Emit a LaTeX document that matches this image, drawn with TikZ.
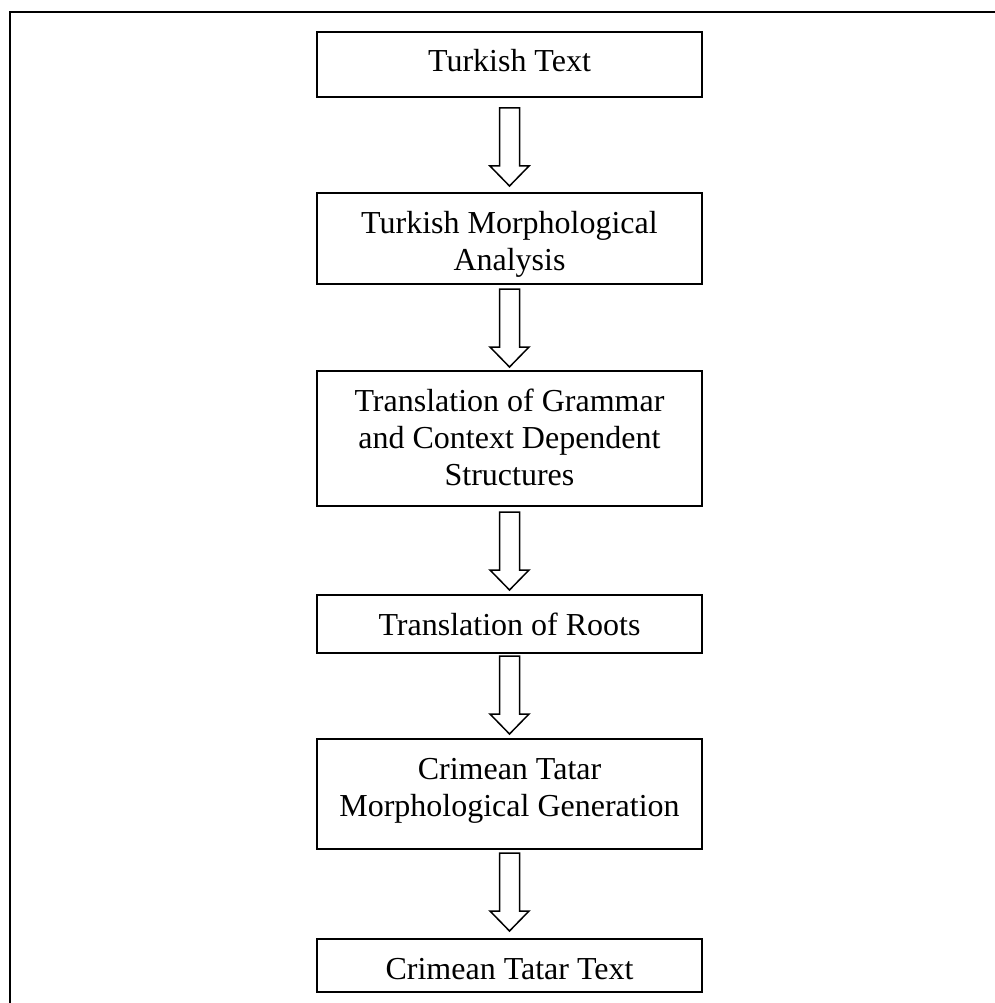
\documentclass[tikz,border=0pt]{standalone}
\usepackage{fontspec}
\setmainfont{Liberation Serif}
\usetikzlibrary{calc}
\begin{document}
\begin{tikzpicture}[x=1pt,y=1pt,
  box/.style={draw,line width=1.5pt,anchor=north,minimum width=385pt,
    inner xsep=0pt,inner ysep=0pt,outer sep=0pt,align=center,
    font=\fontsize{32}{37}\selectfont},
  frameline/.style={line width=1.5pt},
  blockarr/.pic={\draw[line width=1.5pt,line join=miter]
    (-10,0) -- (10,0) -- (10,-58) -- (19.5,-58) -- (0,-78) -- (-19.5,-58) -- (-10,-58) -- cycle;}]
\useasboundingbox (0,0) rectangle (994,-1003);
\draw[frameline] (1000,-12) -| (10,-1010);
\node[box,text height=40pt,text depth=25pt] (b1) at (509.5,-32) {Turkish Text};
\node[box,text height=77pt,text depth=14pt] (b2) at (509.5,-193) {Turkish Morphological\\Analysis};
\node[box,text height=114pt,text depth=21pt] (b3) at (509.5,-371) {Translation of Grammar\\and Context Dependent\\Structures};
\node[box,text height=40pt,text depth=18pt] (b4) at (509.5,-595) {Translation of Roots};
\node[box,text height=77pt,text depth=33pt] (b5) at (509.5,-739) {Crimean Tatar\\Morphological Generation};
\node[box,text height=40pt,text depth=13pt] (b6) at (509.5,-939) {Crimean Tatar Text};
\pic at ($(b1.south)+(0,-11)$) {blockarr};
\pic at ($(b2.south)+(0,-5)$) {blockarr};
\pic at ($(b3.south)+(0,-6)$) {blockarr};
\pic at ($(b4.south)+(0,-3)$) {blockarr};
\pic at ($(b5.south)+(0,-4)$) {blockarr};
\end{tikzpicture}
\end{document}
